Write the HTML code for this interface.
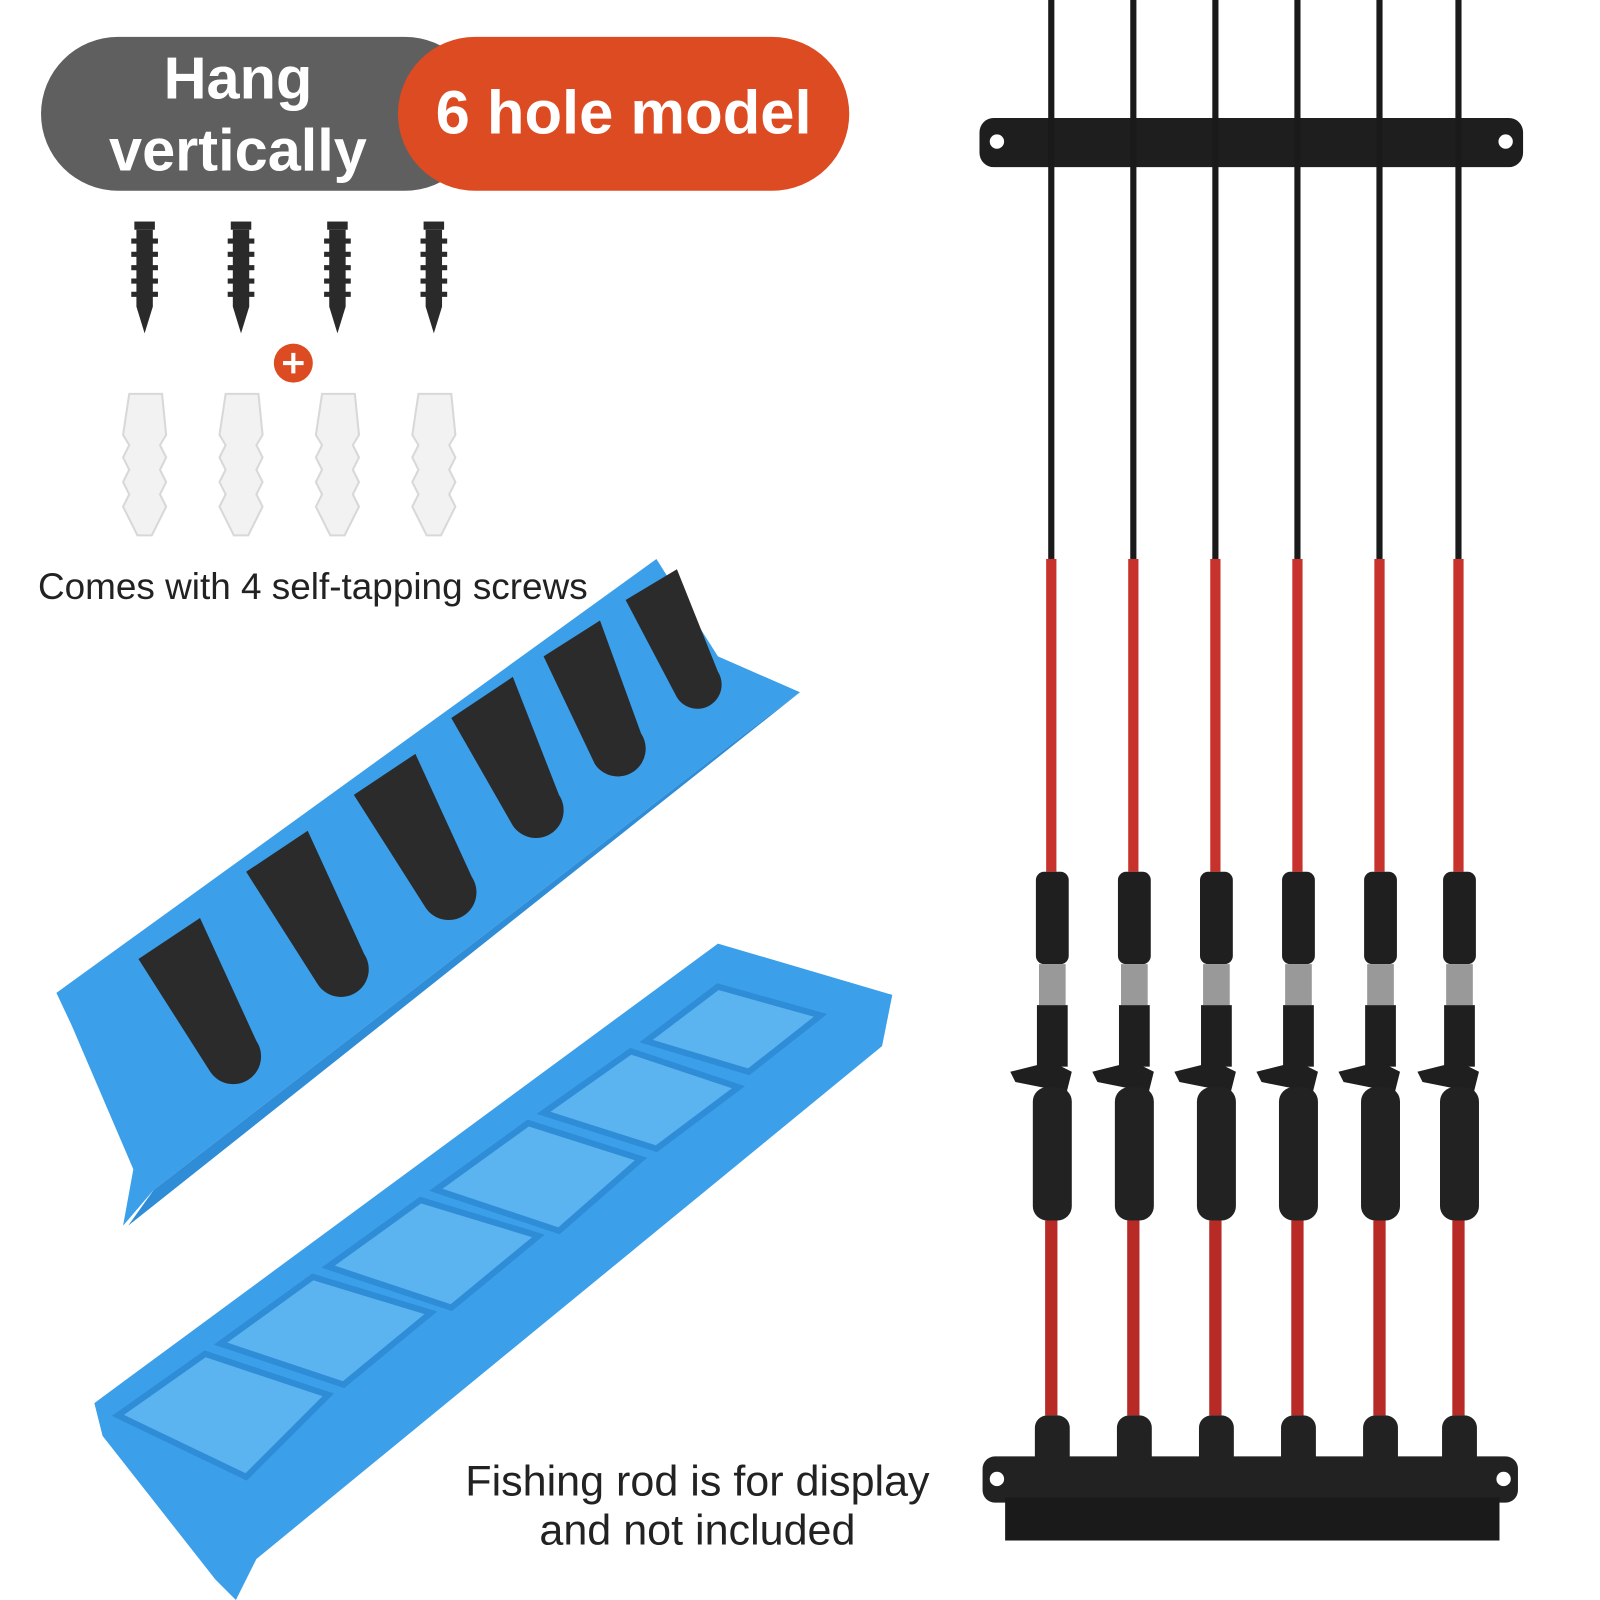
<!DOCTYPE html>
<html><head><meta charset="utf-8"><style>
html,body{margin:0;padding:0;background:#fff;}
svg{display:block}
text{font-family:"Liberation Sans",sans-serif;}
</style></head><body>
<svg width="1600" height="1600" viewBox="0 0 1560 1560" xmlns="http://www.w3.org/2000/svg">
<rect width="1560" height="1560" fill="#fff"/>
<!-- header -->
<rect x="40" y="36" width="430" height="150" rx="75" fill="#5f5f5f"/>
<rect x="388" y="36" width="440" height="150" rx="75" fill="#dd4b22"/>
<text x="232" y="96" font-size="58" font-weight="bold" fill="#fff" text-anchor="middle">Hang</text>
<text x="232" y="166" font-size="58" font-weight="bold" fill="#fff" text-anchor="middle">vertically</text>
<text x="608" y="130" font-size="60" font-weight="bold" fill="#fff" text-anchor="middle">6 hole model</text>
<!-- screws -->
<g fill="#2a2a2a">
<g id="sc"><rect x="131" y="216" width="20" height="8"/><path d="M133 224 h16 v75 l-8 26 l-8 -26z"/>
<path d="M128 235 h26 M128 248 h26 M128 261 h26 M128 274 h26 M128 287 h26" stroke="#2a2a2a" stroke-width="5"/></g>
<use href="#sc" x="94"/><use href="#sc" x="188"/><use href="#sc" x="282"/>
</g>
<circle cx="286" cy="354" r="19" fill="#dd4b22"/>
<path d="M276 354h20M286 344v20" stroke="#fff" stroke-width="4"/>
<!-- anchors -->
<g fill="#f2f2f2" stroke="#d8d8d8" stroke-width="2">
<g id="an"><path d="M126 384 h32 l4 40 l-6 10 l6 12 l-6 12 l6 12 l-6 12 l6 12 l-6 12 l-8 16 h-14 l-8 -16 l-6 -12 l6 -12 l-6 -12 l6 -12 l-6 -12 l6 -12 l-6 -10z"/></g>
<use href="#an" x="94"/><use href="#an" x="188"/><use href="#an" x="282"/>
</g>
<text x="305" y="584" font-size="36" fill="#222" text-anchor="middle">Comes with 4 self-tapping screws</text>
<!-- top blue holder -->
<path d="M55 968 L640 545 L700 640 L780 675 L720 720 L150 1160 L120 1195 L130 1140 L70 1000z" fill="#3b9fe9"/>
<path d="M150 1160 L720 720 L780 675 L125 1195z" fill="#2f8cd6"/>
<g fill="#2b2b2b">
<path d="M135 935 l60 -40 l55 120 a25 25 0 0 1 -45 30z"/>
<path d="M240 850 l60 -40 l55 120 a25 25 0 0 1 -45 30z"/>
<path d="M345 775 l60 -40 l55 120 a25 25 0 0 1 -45 30z"/>
<path d="M440 700 l60 -40 l45 115 a25 25 0 0 1 -45 30z"/>
<path d="M530 640 l55 -35 l40 110 a25 25 0 0 1 -45 30z"/>
<path d="M610 585 l50 -30 l40 100 a22 22 0 0 1 -40 25z"/>
</g>
<!-- bottom blue holder -->
<path d="M92 1368 L700 920 L870 970 L860 1020 L250 1520 L230 1560 L210 1540 L100 1400z" fill="#3b9fe9"/>
<g fill="#5bb4f0" stroke="#2f8cd6" stroke-width="6">
<path d="M115 1380 L200 1320 L320 1360 L240 1440z"/>
<path d="M215 1310 L305 1245 L420 1280 L335 1350z"/>
<path d="M320 1235 L410 1170 L525 1205 L440 1275z"/>
<path d="M425 1160 L515 1095 L625 1130 L545 1200z"/>
<path d="M530 1085 L615 1025 L720 1060 L640 1120z"/>
<path d="M630 1015 L700 962 L800 990 L730 1045z"/>
</g>
<text x="680" y="1458" font-size="42" fill="#222" text-anchor="middle">Fishing rod is for display</text>
<text x="680" y="1506" font-size="42" fill="#222" text-anchor="middle">and not included</text>
<!-- racks -->
<rect x="955" y="115" width="530" height="48" rx="14" fill="#1e1e1e"/>
<circle cx="972" cy="138" r="7" fill="#fff"/><circle cx="1468" cy="138" r="7" fill="#fff"/>
<!-- rods -->
<g id="rod">
<rect x="1022" y="0" width="6" height="545" fill="#1a1a1a"/>
<rect x="1020" y="545" width="10" height="305" fill="#c8322c"/>
<rect x="1010" y="850" width="32" height="90" rx="8" fill="#1f1f1f"/>
<rect x="1013" y="940" width="26" height="40" fill="#999"/>
<rect x="1011" y="980" width="30" height="60" fill="#1f1f1f"/>
<path d="M985 1045 l40 -10 l20 10 l-5 20 l-50 -10z" fill="#1f1f1f"/>
<rect x="1007" y="1060" width="38" height="130" rx="14" fill="#222"/>
<rect x="1019" y="1190" width="12" height="190" fill="#b82a26"/>
<rect x="1009" y="1380" width="34" height="80" rx="12" fill="#222"/>
</g>
<use href="#rod" x="80"/><use href="#rod" x="160"/><use href="#rod" x="240"/><use href="#rod" x="320"/><use href="#rod" x="397"/>
<rect x="958" y="1420" width="522" height="45" rx="12" fill="#222"/>
<rect x="980" y="1460" width="482" height="42" fill="#1a1a1a"/>
<circle cx="972" cy="1442" r="7" fill="#fff"/><circle cx="1466" cy="1442" r="7" fill="#fff"/>
</svg>
</body></html>
